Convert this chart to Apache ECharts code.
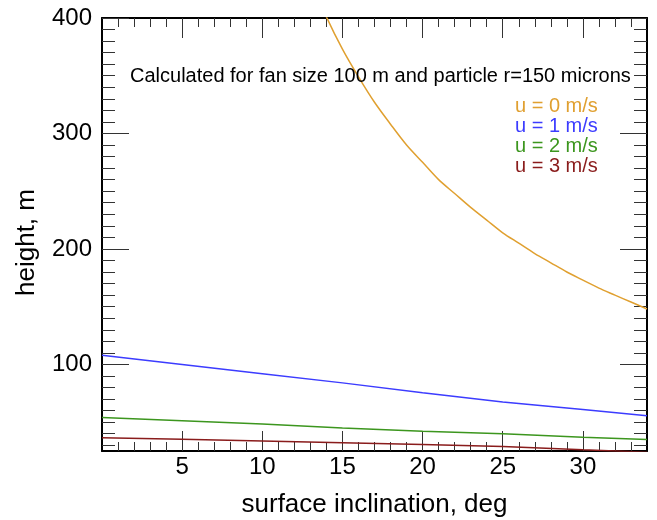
<!DOCTYPE html>
<html><head><meta charset="utf-8">
<script src="https://cdn.jsdelivr.net/npm/echarts@6/dist/echarts.min.js"></script>
<style>html,body{margin:0;padding:0;background:#fff}#c{width:657px;height:520px}</style>
</head><body><div id="c"></div>
<script>
// ---- data ----
const seriesNames = ['u = 0 m/s', 'u = 1 m/s', 'u = 2 m/s', 'u = 3 m/s'];
const seriesColors = ['#E0A030', '#3C3CFF', '#3C961E', '#8A1C1C'];
const xU0 = [13, 14, 15, 16, 17, 18, 19, 20, 21, 22, 23, 24, 25, 26, 27, 28, 29, 30, 31, 32, 33, 34];
const u0 = [433, 401, 373, 349, 327, 308, 290, 275, 260, 248, 236, 225, 214, 205, 196, 188, 180, 173, 166, 160, 154, 148];
const xLow = [0, 5, 10, 15, 20, 25, 30, 34];
const u1 = [108, 100, 92, 84, 75.5, 67.5, 61, 55.5];
const u2 = [54, 51.2, 48.4, 45, 42, 40, 37, 35];
const u3 = [36.5, 35.2, 33.6, 32.2, 30.7, 28.8, 26, 24];
const xMajorTicks = [5, 10, 15, 20, 25, 30];
const yMajorTicks = [100, 200, 300, 400];
const annotation = 'Calculated for fan size 100 m and particle r=150 microns';
const xTitle = 'surface inclination, deg';
const yTitle = 'height, m';

// ---- layout ----
const X_MIN = 0, X_MAX = 34, Y_MIN = 25, Y_MAX = 400;
const xMinorTicks = [];
for (let v = 1; v < X_MAX; v++) if (xMajorTicks.indexOf(v) < 0) xMinorTicks.push(v);
const yMinorTicks = [];
for (let v = 30; v < Y_MAX; v += 10) if (yMajorTicks.indexOf(v) < 0) yMinorTicks.push(v);

const FONT = '"Liberation Sans", Arial, Helvetica, sans-serif';

function xAxisDef(pos, ticks, len, major) {
  return {
    type: 'value', position: pos, min: X_MIN, max: X_MAX,
    axisLine: { show: major, onZero: false, lineStyle: { color: '#000', width: 2 } },
    axisTick: { show: true, inside: true, length: len, customValues: ticks, lineStyle: { color: '#333', width: 1 } },
    axisLabel: (major && pos === 'bottom') ? { show: true, customValues: ticks, fontSize: 24, color: '#000', fontFamily: FONT, margin: 4 } : { show: false },
    splitLine: { show: false },
    name: (major && pos === 'bottom') ? xTitle : '',
    nameLocation: 'middle', nameGap: 41,
    nameTextStyle: { fontSize: 26, color: '#000', fontFamily: FONT }
  };
}
function yAxisDef(pos, ticks, len, major) {
  return {
    type: 'value', position: pos, min: Y_MIN, max: Y_MAX,
    axisLine: { show: major, onZero: false, lineStyle: { color: '#000', width: 2 } },
    axisTick: { show: true, inside: true, length: len, customValues: ticks, lineStyle: { color: '#333', width: 1 } },
    axisLabel: (major && pos === 'left') ? { show: true, customValues: ticks, fontSize: 24, color: '#000', fontFamily: FONT, margin: 10 } : { show: false },
    splitLine: { show: false },
    name: (major && pos === 'left') ? yTitle : '',
    nameLocation: 'middle', nameGap: 62, nameRotate: 90,
    nameTextStyle: { fontSize: 26, color: '#000', fontFamily: FONT, padding: [0, 16, 0, 0] }
  };
}

const xs = [xU0, xLow, xLow, xLow];
const ys = [u0, u1, u2, u3];
const series = seriesNames.map((n, i) => ({
  name: n, type: 'line', xAxisIndex: 0, yAxisIndex: 0,
  data: xs[i].map((x, j) => [x, ys[i][j]]),
  showSymbol: false, symbol: 'none', clip: true,
  smooth: i === 0 ? 0.3 : false,
  lineStyle: { color: seriesColors[i], width: 1.5 },
  itemStyle: { color: seriesColors[i] }
}));

const chart = echarts.init(document.getElementById('c'), null, { renderer: 'canvas' });
chart.setOption({
  animation: false,
  backgroundColor: '#fff',
  grid: { left: 102, right: 10, top: 18, bottom: 69, containLabel: false, outerBoundsMode: 'none' },
  title: {
    text: annotation, left: 125, top: 61,
    textStyle: { fontSize: 20, fontWeight: 'normal', color: '#000', fontFamily: FONT }
  },
  legend: {
    orient: 'vertical', left: 510, top: 96, padding: 0, itemGap: 0,
    icon: 'none', itemWidth: 0, itemHeight: 19,
    data: seriesNames.map((n, i) => ({ name: n, textStyle: { color: seriesColors[i] } })),
    textStyle: { fontSize: 20, fontFamily: FONT, lineHeight: 19.5 },
    selectedMode: false
  },
  xAxis: [
    xAxisDef('bottom', xMajorTicks, 20, true),
    xAxisDef('bottom', xMinorTicks, 9, false),
    xAxisDef('top', xMajorTicks, 20, true),
    xAxisDef('top', xMinorTicks, 9, false)
  ],
  yAxis: [
    yAxisDef('left', yMajorTicks, 27, true),
    yAxisDef('left', yMinorTicks, 13, false),
    yAxisDef('right', yMajorTicks, 27, true),
    yAxisDef('right', yMinorTicks, 13, false)
  ],
  series: series
});
</script>
</body></html>
